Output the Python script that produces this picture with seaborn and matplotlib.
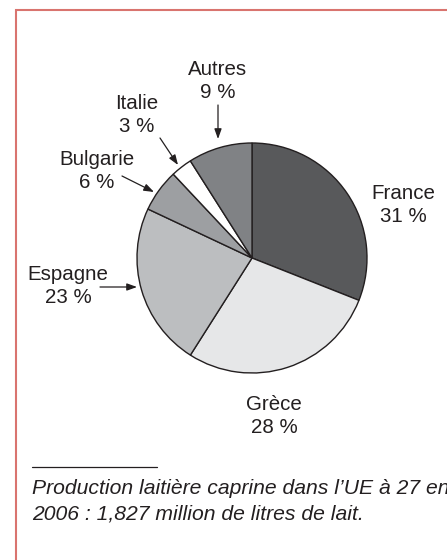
import matplotlib
matplotlib.use("Agg")
import matplotlib.pyplot as plt
import seaborn as sns
from matplotlib.patches import Rectangle

sns.set_theme(style="white")
plt.rcParams['font.family'] = ['Liberation Sans', 'DejaVu Sans']

countries = ["France", "Grèce", "Espagne", "Bulgarie", "Italie", "Autres"]
shares = [31, 28, 23, 6, 3, 9]
colors = ["#58595b", "#e6e7e8", "#bcbec0", "#9d9fa2", "#ffffff", "#808285"]
footnote = "Production laitière caprine dans l’UE à 27 en\n2006 : 1,827 million de litres de lait."

W, H = 447, 560
fig = plt.figure(figsize=(W / 100, H / 100), dpi=100)
ax = fig.add_axes([0, 0, 1, 1])

def py(y):
    return H - y

ax.pie(shares, colors=colors, startangle=90, counterclock=False,
       center=(252, py(258)), radius=115,
       wedgeprops=dict(edgecolor="#231f20", linewidth=1.0))
ax.set_xlim(0, W)
ax.set_ylim(0, H)
ax.set_aspect("equal")
ax.axis("off")

# frame
ax.add_patch(Rectangle((15.5, py(600)), 600, 590, fill=False,
                       edgecolor="#d9746f", linewidth=1.5, clip_on=True))

label_pos = {
    "France": (403, 205),
    "Grèce": (274, 416),
    "Espagne": (68, 286),
    "Bulgarie": (97, 171),
    "Italie": (137, 115),
    "Autres": (218, 81),
}
for c, s in zip(countries, shares):
    x, y = label_pos[c]
    ax.text(x, py(y), f"{c}\n{s} %", ha="center", va="center",
            fontsize=14.8, color="#231f20", linespacing=1.33)

arrows = [((218, 105), (218, 139)),
          ((160, 138), (178, 165)),
          ((122, 176), (154, 192)),
          ((100, 287), (137, 287))]
for (x0, y0), (x1, y1) in arrows:
    ax.annotate("", xy=(x1, py(y1)), xytext=(x0, py(y0)),
                arrowprops=dict(arrowstyle="-|>,head_length=0.5,head_width=0.18",
                                color="#231f20", lw=0.9, shrinkA=0, shrinkB=0))

ax.plot([32, 157], [py(467), py(467)], color="#231f20", lw=0.9)
ax.text(32, py(501.5), footnote, ha="left", va="center", fontsize=15.2,
        style="italic", color="#231f20", linespacing=1.4)

fig.savefig("out.png", dpi=100)
